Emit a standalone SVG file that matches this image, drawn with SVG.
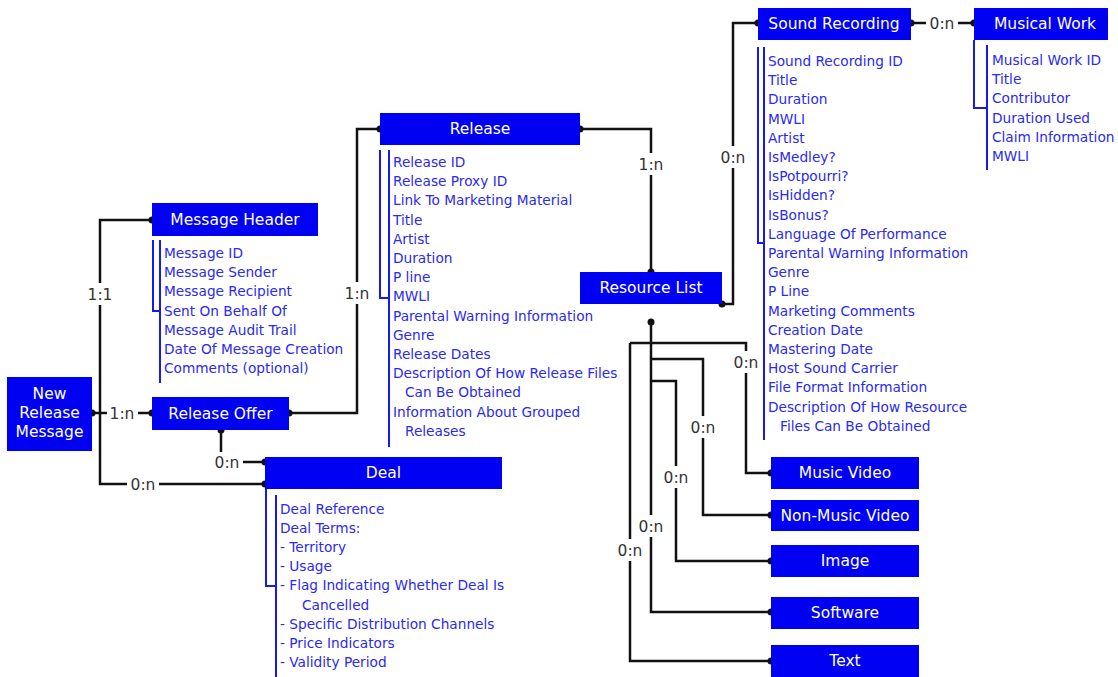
<svg xmlns="http://www.w3.org/2000/svg" width="1118" height="677" viewBox="0 0 1118 677">
  <style>
    .box { fill: #0000f2; }
    .title { font-family: "DejaVu Sans", Verdana, sans-serif; font-size: 15.5px; fill: #ffffff; text-anchor: middle; }
    .item { font-family: "DejaVu Sans", Verdana, sans-serif; font-size: 13.7px; fill: #2a2af0; }
    .bar { fill: none; stroke: #1818f0; stroke-width: 2; }
    .wire { fill: none; stroke: #111111; stroke-width: 2.5; }
    .dot { fill: #111111; }
    .card { font-family: "DejaVu Sans", Verdana, sans-serif; font-size: 15.5px; fill: #333333; text-anchor: middle; }
    .gap { fill: #ffffff; }
  </style>
  <rect width="1118" height="677" fill="#ffffff"/>

  <!-- connectors -->
  <g id="connectors">
    <!-- New Release Message to Message Header and Deal -->
    <path class="wire" d="M152 220 H100 V484 H265"/>
    <path class="wire" d="M92 413 H152"/>
    <!-- Release Offer to Release -->
    <path class="wire" d="M289 413 H357 V129 H380"/>
    <!-- Release Offer to Deal -->
    <path class="wire" d="M221 430 V462 H265"/>
    <!-- Release to Resource List -->
    <path class="wire" d="M580 129 H651 V272"/>
    <!-- Resource List to Sound Recording -->
    <path class="wire" d="M722 304 H733 V23 H758"/>
    <!-- Sound Recording to Musical Work -->
    <path class="wire" d="M911 23 H974"/>
    <!-- Resource List to media resources -->
    <path class="wire" d="M651 322 V612 H771"/>
    <path class="wire" d="M630 343 H746 V473 H771"/>
    <path class="wire" d="M630 343 V661 H771"/>
    <path class="wire" d="M651 359 H703 V515 H771"/>
    <path class="wire" d="M651 381 H676 V561 H771"/>

    <g class="dot">
      <circle cx="152" cy="220" r="3.5"/>
      <circle cx="92" cy="413" r="3.5"/>
      <circle cx="152" cy="413" r="3.5"/>
      <circle cx="289" cy="413" r="3.5"/>
      <circle cx="380" cy="129" r="3.5"/>
      <circle cx="221" cy="430" r="3.5"/>
      <circle cx="265" cy="462" r="3.5"/>
      <circle cx="265" cy="484" r="3.5"/>
      <circle cx="580" cy="129" r="3.5"/>
      <circle cx="651" cy="272" r="3.5"/>
      <circle cx="722" cy="304" r="3.5"/>
      <circle cx="758" cy="23" r="3.5"/>
      <circle cx="911" cy="23" r="3.5"/>
      <circle cx="974" cy="23" r="3.5"/>
      <circle cx="651" cy="322" r="3.5"/>
      <circle cx="771" cy="473" r="3.5"/>
      <circle cx="771" cy="515" r="3.5"/>
      <circle cx="771" cy="561" r="3.5"/>
      <circle cx="771" cy="612" r="3.5"/>
      <circle cx="771" cy="661" r="3.5"/>
    </g>

    <!-- cardinality labels -->
    <g>
      <rect class="gap" x="84" y="283" width="32" height="22"/>
      <text class="card" x="100" y="299.5">1:1</text>
      <rect class="gap" x="107" y="404" width="31" height="18"/>
      <text class="card" x="122" y="418.5">1:n</text>
      <rect class="gap" x="127" y="475" width="32" height="18"/>
      <text class="card" x="143" y="489.5">0:n</text>
      <rect class="gap" x="211" y="452" width="32" height="19"/>
      <text class="card" x="227" y="467.5">0:n</text>
      <rect class="gap" x="341" y="282" width="32" height="22"/>
      <text class="card" x="357" y="298.5">1:n</text>
      <rect class="gap" x="635" y="153" width="32" height="22"/>
      <text class="card" x="651" y="169.5">1:n</text>
      <rect class="gap" x="717" y="146" width="32" height="22"/>
      <text class="card" x="733" y="162.5">0:n</text>
      <rect class="gap" x="926" y="14" width="32" height="18"/>
      <text class="card" x="942" y="28.5">0:n</text>
      <rect class="gap" x="730" y="351" width="32" height="22"/>
      <text class="card" x="746" y="367.5">0:n</text>
      <rect class="gap" x="687" y="416" width="32" height="22"/>
      <text class="card" x="703" y="432.5">0:n</text>
      <rect class="gap" x="660" y="466" width="32" height="22"/>
      <text class="card" x="676" y="482.5">0:n</text>
      <rect class="gap" x="635" y="515" width="32" height="22"/>
      <text class="card" x="651" y="531.5">0:n</text>
      <rect class="gap" x="614" y="539" width="32" height="22"/>
      <text class="card" x="630" y="555.5">0:n</text>
    </g>
  </g>

  <!-- nodes -->
  <g id="new-release-message">
    <rect class="box" x="7" y="377" width="85" height="74"/>
    <text class="title" x="49.5" y="399">New</text>
    <text class="title" x="49.5" y="418">Release</text>
    <text class="title" x="49.5" y="437">Message</text>
  </g>

  <g id="message-header">
    <rect class="box" x="152" y="203" width="166" height="33"/>
    <text class="title" x="235" y="225">Message Header</text>
    <path class="bar" d="M153 240 V311 H160"/>
    <path class="bar" d="M160 240 V383"/>
    <text class="item">
      <tspan x="164" y="258">Message ID</tspan>
      <tspan x="164" dy="19.2">Message Sender</tspan>
      <tspan x="164" dy="19.2">Message Recipient</tspan>
      <tspan x="164" dy="19.2">Sent On Behalf Of</tspan>
      <tspan x="164" dy="19.2">Message Audit Trail</tspan>
      <tspan x="164" dy="19.2">Date Of Message Creation</tspan>
      <tspan x="164" dy="19.2">Comments (optional)</tspan>
    </text>
  </g>

  <g id="release-offer">
    <rect class="box" x="152" y="397" width="137" height="33"/>
    <text class="title" x="220.5" y="419">Release Offer</text>
  </g>

  <g id="release">
    <rect class="box" x="380" y="113" width="200" height="32"/>
    <text class="title" x="480" y="134">Release</text>
    <path class="bar" d="M380 150 V298 H389"/>
    <path class="bar" d="M389 150 V447"/>
    <text class="item">
      <tspan x="393" y="167">Release ID</tspan>
      <tspan x="393" dy="19.2">Release Proxy ID</tspan>
      <tspan x="393" dy="19.2">Link To Marketing Material</tspan>
      <tspan x="393" dy="19.2">Title</tspan>
      <tspan x="393" dy="19.2">Artist</tspan>
      <tspan x="393" dy="19.2">Duration</tspan>
      <tspan x="393" dy="19.2">P line</tspan>
      <tspan x="393" dy="19.2">MWLI</tspan>
      <tspan x="393" dy="19.2">Parental Warning Information</tspan>
      <tspan x="393" dy="19.2">Genre</tspan>
      <tspan x="393" dy="19.2">Release Dates</tspan>
      <tspan x="393" dy="19.2">Description Of How Release Files</tspan>
      <tspan x="405" dy="19.2">Can Be Obtained</tspan>
      <tspan x="393" dy="19.2">Information About Grouped</tspan>
      <tspan x="405" dy="19.2">Releases</tspan>
    </text>
  </g>

  <g id="resource-list">
    <rect class="box" x="580" y="272" width="142" height="32"/>
    <text class="title" x="651" y="293">Resource List</text>
  </g>

  <g id="sound-recording">
    <rect class="box" x="758" y="8" width="153" height="32"/>
    <text class="title" x="834" y="29">Sound Recording</text>
    <path class="bar" d="M758 47 V243 H764"/>
    <path class="bar" d="M764 47 V440"/>
    <text class="item">
      <tspan x="768" y="66">Sound Recording ID</tspan>
      <tspan x="768" dy="19.2">Title</tspan>
      <tspan x="768" dy="19.2">Duration</tspan>
      <tspan x="768" dy="19.2">MWLI</tspan>
      <tspan x="768" dy="19.2">Artist</tspan>
      <tspan x="768" dy="19.2">IsMedley?</tspan>
      <tspan x="768" dy="19.2">IsPotpourri?</tspan>
      <tspan x="768" dy="19.2">IsHidden?</tspan>
      <tspan x="768" dy="19.2">IsBonus?</tspan>
      <tspan x="768" dy="19.2">Language Of Performance</tspan>
      <tspan x="768" dy="19.2">Parental Warning Information</tspan>
      <tspan x="768" dy="19.2">Genre</tspan>
      <tspan x="768" dy="19.2">P Line</tspan>
      <tspan x="768" dy="19.2">Marketing Comments</tspan>
      <tspan x="768" dy="19.2">Creation Date</tspan>
      <tspan x="768" dy="19.2">Mastering Date</tspan>
      <tspan x="768" dy="19.2">Host Sound Carrier</tspan>
      <tspan x="768" dy="19.2">File Format Information</tspan>
      <tspan x="768" dy="19.2">Description Of How Resource</tspan>
      <tspan x="780" dy="19.2">Files Can Be Obtained</tspan>
    </text>
  </g>

  <g id="musical-work">
    <rect class="box" x="974" y="8" width="134" height="32"/>
    <text class="title" x="1045" y="29">Musical Work</text>
    <path class="bar" d="M974 40 V108 H987"/>
    <path class="bar" d="M987 45 V170"/>
    <text class="item">
      <tspan x="992" y="65">Musical Work ID</tspan>
      <tspan x="992" dy="19.2">Title</tspan>
      <tspan x="992" dy="19.2">Contributor</tspan>
      <tspan x="992" dy="19.2">Duration Used</tspan>
      <tspan x="992" dy="19.2">Claim Information</tspan>
      <tspan x="992" dy="19.2">MWLI</tspan>
    </text>
  </g>

  <g id="deal">
    <rect class="box" x="265" y="457" width="237" height="32"/>
    <text class="title" x="383.5" y="478">Deal</text>
    <path class="bar" d="M266 489 V586 H276"/>
    <path class="bar" d="M276 495 V677"/>
    <text class="item">
      <tspan x="280" y="514">Deal Reference</tspan>
      <tspan x="280" dy="19.1">Deal Terms:</tspan>
      <tspan x="280" dy="19.1">- Territory</tspan>
      <tspan x="280" dy="19.1">- Usage</tspan>
      <tspan x="280" dy="19.1">- Flag Indicating Whether Deal Is</tspan>
      <tspan x="302" dy="19.1">Cancelled</tspan>
      <tspan x="280" dy="19.1">- Specific Distribution Channels</tspan>
      <tspan x="280" dy="19.1">- Price Indicators</tspan>
      <tspan x="280" dy="19.1">- Validity Period</tspan>
    </text>
  </g>

  <g id="music-video">
    <rect class="box" x="771" y="457" width="148" height="32"/>
    <text class="title" x="845" y="478">Music Video</text>
  </g>
  <g id="non-music-video">
    <rect class="box" x="771" y="500" width="148" height="31"/>
    <text class="title" x="845" y="521">Non-Music Video</text>
  </g>
  <g id="image">
    <rect class="box" x="771" y="545" width="148" height="32"/>
    <text class="title" x="845" y="566">Image</text>
  </g>
  <g id="software">
    <rect class="box" x="771" y="597" width="148" height="32"/>
    <text class="title" x="845" y="618">Software</text>
  </g>
  <g id="text">
    <rect class="box" x="771" y="645" width="148" height="32"/>
    <text class="title" x="845" y="666">Text</text>
  </g>
</svg>
